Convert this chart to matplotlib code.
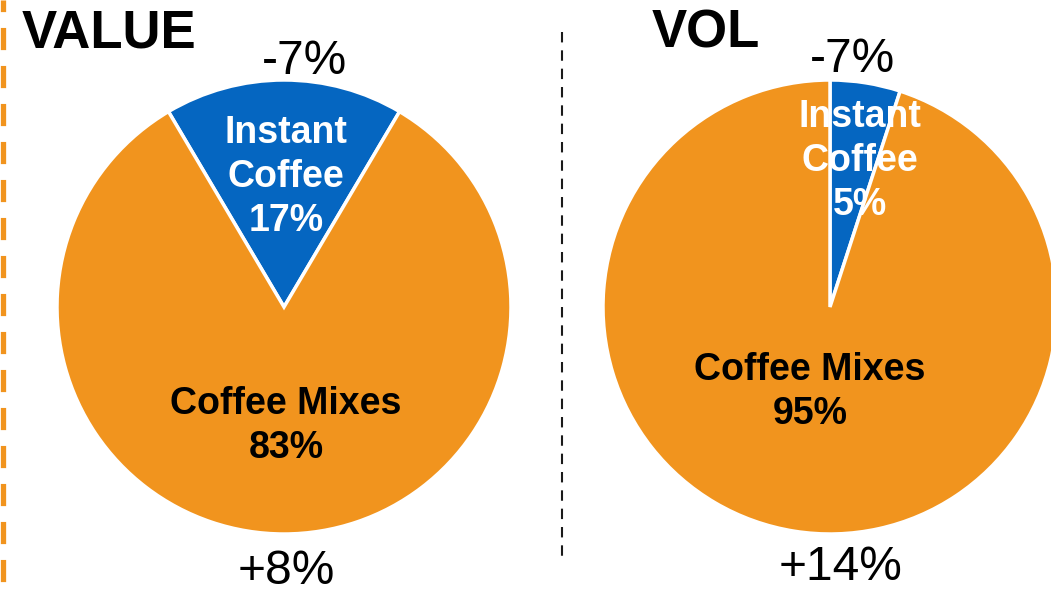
import matplotlib

matplotlib.use("Agg")
import matplotlib.pyplot as plt

plt.rcParams["font.family"] = ["Liberation Sans", "DejaVu Sans"]

segments = ["Instant Coffee", "Coffee Mixes"]
value_share = [17, 83]
vol_share = [5, 95]
value_growth = ["-7%", "+8%"]
vol_growth = ["-7%", "+14%"]

BLUE = "#0566C1"
ORANGE = "#F1941E"
H = 593

fig = plt.figure(figsize=(10.51, 5.93), dpi=100)
ax = fig.add_axes([0, 0, 1, 1])

# pies in pixel coordinates (y measured upward)
ax.pie(value_share, center=(284, H - 307), radius=227,
       startangle=90 + value_share[0] * 3.6 / 2, counterclock=False,
       colors=[BLUE, ORANGE], wedgeprops=dict(edgecolor="white", linewidth=2.5))
ax.pie(vol_share, center=(830, H - 307), radius=227,
       startangle=90, counterclock=False,
       colors=[BLUE, ORANGE], wedgeprops=dict(edgecolor="white", linewidth=2.5))

ax.set_xlim(0, 1051)
ax.set_ylim(0, H)
ax.set_aspect("auto")
ax.axis("off")

# titles
ax.text(22, H - 34, "VALUE", fontsize=38, fontweight="bold", ha="left", va="center")
ax.text(652, H - 34, "VOL", fontsize=38, fontweight="bold", ha="left", va="center")

# growth labels
ax.text(304, H - 61, value_growth[0], fontsize=34.5, ha="center", va="center")
ax.text(286, H - 571, value_growth[1], fontsize=34.5, ha="center", va="center")
ax.text(853, H - 60, vol_growth[0], fontsize=34.5, ha="center", va="center")
ax.text(841, H - 568, vol_growth[1], fontsize=34.5, ha="center", va="center")

# slice labels
lab = dict(fontsize=27, fontweight="bold", ha="center", va="center", linespacing=1.3)
ax.text(286, H - 177, f"Instant\nCoffee\n{value_share[0]}%", color="white", **lab)
ax.text(286, H - 426, f"Coffee Mixes\n{value_share[1]}%", color="black", **lab)
ax.text(860, H - 161, f"Instant\nCoffee\n{vol_share[0]}%", color="white", **lab)
ax.text(810, H - 392, f"Coffee Mixes\n{vol_share[1]}%", color="black", **lab)

# separators
ax.plot([2.5, 2.5], [H, 0], color=ORANGE, linewidth=3.8, linestyle=(2, (4.2, 3.0)),
        solid_capstyle="butt", dash_capstyle="butt")
ax.plot([561.5, 561.5], [H - 32, H - 561], color="#1a1a1a", linewidth=1.5,
        linestyle=(0, (5, 3.8)), dash_capstyle="butt")

fig.savefig("out.png", dpi=100)
